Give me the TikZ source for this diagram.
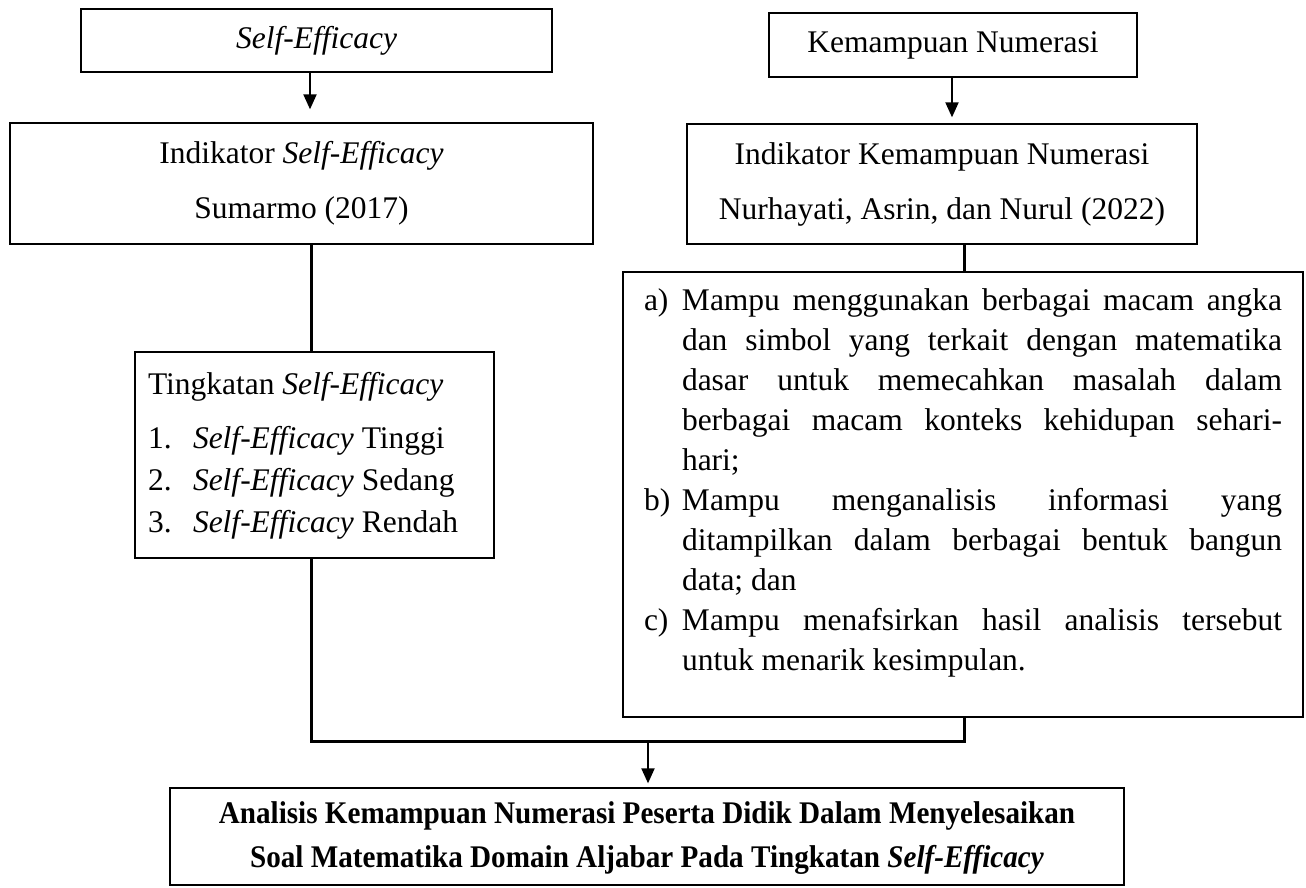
\documentclass[tikz,border=0pt]{standalone}
\usepackage{fontspec}
\setmainfont{Liberation Serif}
\usepackage{graphicx}
\usetikzlibrary{arrows.meta}
\begin{document}
\begin{tikzpicture}[x=1pt,y=-1pt,
  box/.style={draw=black, line width=1.3pt, inner sep=0pt},
  conn/.style={line width=3pt},
  arr/.style={line width=2pt, -{Triangle[length=15pt,width=13pt]}},
  hdr/.style={font=\fontsize{31.5}{55}\selectfont, align=center}]
\useasboundingbox (0,0) rectangle (1306,888);
% left column
\node[box, hdr, minimum width=471pt, minimum height=63pt] (b1) at (316.5,40.5) {\textit{Self-Efficacy}};
\node[box, hdr, minimum width=583pt, minimum height=121pt] (b2) at (301.5,183.5) {Indikator \textit{Self-Efficacy}\\Sumarmo (2017)};
\node[box, font=\fontsize{31.5}{42}\selectfont, minimum width=359pt, minimum height=206pt] (b3) at (314.5,455)
 {\begin{tabular}{@{}p{333pt}@{}}
  Tingkatan \textit{Self-Efficacy}\\[12pt]
  \makebox[45pt][l]{1.}\textit{Self-Efficacy} Tinggi\\
  \makebox[45pt][l]{2.}\textit{Self-Efficacy} Sedang\\
  \makebox[45pt][l]{3.}\textit{Self-Efficacy} Rendah
 \end{tabular}};
% right column
\node[box, hdr, minimum width=368pt, minimum height=64pt] (k1) at (953,45) {Kemampuan Numerasi};
\node[box, hdr, minimum width=510pt, minimum height=120pt] (k2) at (942,184) {Indikator Kemampuan Numerasi\\Nurhayati, Asrin, dan Nurul (2022)};
\node[box, font=\fontsize{31.5}{40}\selectfont, minimum width=680pt, minimum height=445pt] (k3) at (963,494.5)
 {\begin{tabular}{@{}l@{}l@{}}
  \makebox[38pt][l]{a)} & \makebox[600pt][s]{Mampu menggunakan berbagai macam angka}\\
   & \makebox[600pt][s]{dan simbol yang terkait dengan matematika}\\
   & \makebox[600pt][s]{dasar untuk memecahkan masalah dalam}\\
   & \makebox[600pt][s]{berbagai macam konteks kehidupan sehari-}\\
   & \makebox[600pt][l]{hari;}\\
  \makebox[38pt][l]{b)} & \makebox[600pt][s]{Mampu menganalisis informasi yang}\\
   & \makebox[600pt][s]{ditampilkan dalam berbagai bentuk bangun}\\
   & \makebox[600pt][l]{data; dan}\\
  \makebox[38pt][l]{c)} & \makebox[600pt][s]{Mampu menafsirkan hasil analisis tersebut}\\
   & \makebox[600pt][l]{untuk menarik kesimpulan.}\\[25pt]
 \end{tabular}};
% bottom
\node[box, font=\fontsize{31.5}{44}\selectfont\bfseries, minimum width=954pt, minimum height=97pt] (bt) at (647,836.5)
 {\begin{tabular}{@{}c@{}}
  \scalebox{0.925}[1]{Analisis Kemampuan Numerasi Peserta Didik Dalam Menyelesaikan}\\
  \scalebox{0.925}[1]{Soal Matematika Domain Aljabar Pada Tingkatan \textit{Self-Efficacy}}
 \end{tabular}};
% helper coordinates
\coordinate (xA) at (310,0);
\coordinate (xL) at (311,0);
\coordinate (xK) at (952,0);
\coordinate (xR) at (964,0);
\coordinate (j) at (648,741);
% connectors
\draw[arr, shorten >=13pt] (b1.south -| xA) -- (b2.north -| xA);
\draw[conn] (b2.south -| xL) -- (b3.north -| xL);
\draw[arr, shorten >=6pt] (k1.south -| xK) -- (k2.north -| xK);
\draw[conn] (k2.south -| xR) -- (k3.north -| xR);
\draw[conn] (b3.south -| xL) -- (xL |- j) -- (j -| xR) -- (k3.south -| xR);
\draw[arr, shorten >=4pt] (j) -- (bt.north -| j);
\end{tikzpicture}
\end{document}
